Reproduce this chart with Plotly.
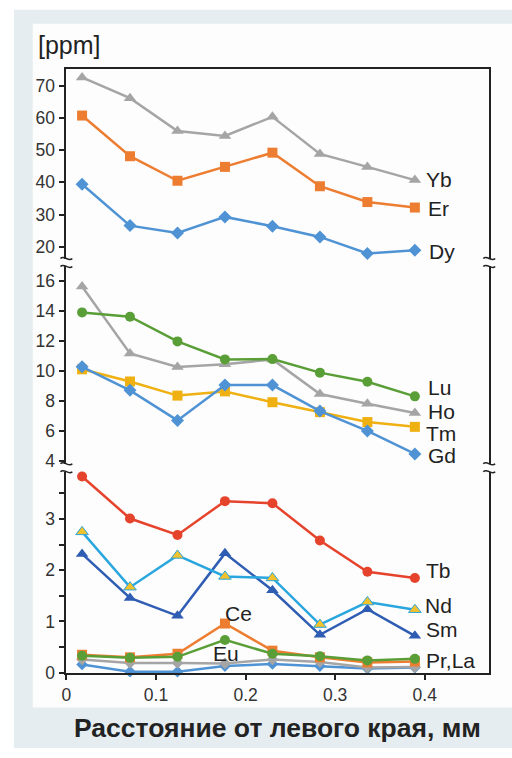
import plotly.graph_objects as go

# Distance from the left edge, mm
dist = [0.0175, 0.071, 0.124, 0.177, 0.23, 0.283, 0.336, 0.389]

# Upper group (ppm)
yb = [72.5, 66.1, 55.9, 54.4, 60.3, 48.8, 44.8, 40.7]
er = [60.7, 48.1, 40.5, 44.8, 49.2, 38.8, 33.9, 32.2]
dy = [39.4, 26.6, 24.3, 29.3, 26.4, 23.1, 18.0, 19.0]

# Middle group (ppm)
lu = [13.88, 13.59, 11.95, 10.75, 10.77, 9.87, 9.26, 8.29]
ho = [15.6, 11.15, 10.25, 10.42, 10.75, 8.45, 7.8, 7.18]
tm = [10.09, 9.28, 8.34, 8.62, 7.9, 7.24, 6.58, 6.26]
gd = [10.26, 8.69, 6.69, 9.04, 9.04, 7.31, 5.99, 4.46]

# Lower group (ppm)
tb = [3.83, 3.01, 2.69, 3.35, 3.31, 2.58, 1.97, 1.85]
nd = [2.75, 1.67, 2.29, 1.88, 1.85, 0.94, 1.38, 1.23]
sm = [2.32, 1.46, 1.11, 2.33, 1.61, 0.74, 1.24, 0.72]
ce = [0.35, 0.30, 0.37, 0.96, 0.43, 0.30, 0.20, 0.22]
eu = [0.33, 0.29, 0.31, 0.64, 0.37, 0.32, 0.24, 0.27]
la = [0.26, 0.19, 0.19, 0.18, 0.26, 0.21, 0.10, 0.11]
pr = [0.16, 0.02, 0.02, 0.13, 0.17, 0.13, 0.08, 0.10]

x_ticks = [0, 0.1, 0.2, 0.3, 0.4]
x_ticktext = ["0", "0.1", "0.2", "0.3", "0.4"]
top_ticks = [20, 30, 40, 50, 60, 70]
mid_ticks = [4, 6, 8, 10, 12, 14, 16]
low_ticks = [0, 0.5, 1, 1.5, 2, 2.5, 3, 3.5]
low_ticktext = ["0", "", "1", "", "2", "", "3", ""]

W, H = 512, 758
GRAY = "#a5a5a5"
ORANGE = "#ed7d31"
BLUE = "#4f93d4"
GREEN = "#5a9e37"
YELLOW = "#efb112"
RED = "#e5432c"
LBLUE = "#2aa6df"
DBLUE = "#2f5db3"
AXIS = "#222222"
FONT = "Liberation Sans, Arial, sans-serif"


def px(x):
    return x / W


def py(y):
    return 1 - y / H


fig = go.Figure()


def series(y, color, symbol, size, axis, fill=None, edge=None):
    fig.add_trace(go.Scatter(
        x=dist, y=y, xaxis=axis[0], yaxis=axis[1], mode="lines+markers",
        line=dict(color=color, width=2.5),
        marker=dict(symbol=symbol, size=size, color=fill or color,
                    line=dict(color=edge or (fill or color), width=1 if edge else 0)),
        hoverinfo="skip", showlegend=False, cliponaxis=False))


top = ("x", "y")
mid = ("x2", "y2")
low = ("x3", "y3")

series(yb, GRAY, "triangle-up", 11, top)
series(er, ORANGE, "square", 10, top)
series(dy, BLUE, "diamond", 10, top)

series(ho, GRAY, "triangle-up", 11, mid)
series(lu, GREEN, "circle", 10, mid)
series(tm, YELLOW, "square", 10, mid)
series(gd, BLUE, "diamond", 10, mid)

series(pr, BLUE, "diamond", 9, low)
series(la, GRAY, "diamond", 9, low)
series(ce, ORANGE, "square", 10, low)
series(eu, GREEN, "circle", 10, low)
series(sm, DBLUE, "triangle-up", 11, low)
series(nd, LBLUE, "triangle-up", 11, low, fill="#f2c12e", edge=LBLUE)
series(tb, RED, "circle", 10, low)

xdom = [px(62), px(489)]
xr = [0, 0.472]
tickfont = dict(family=FONT, size=17.5, color="#333333")

common_y = dict(showline=True, linecolor=AXIS, linewidth=2, mirror=True,
                ticks="outside", ticklen=5, tickwidth=1.5, tickcolor=AXIS,
                showgrid=False, zeroline=False, tickfont=tickfont, ticklabelstandoff=1)

fig.update_layout(
    width=W, height=H, margin=dict(l=0, r=0, t=0, b=0),
    paper_bgcolor="white", plot_bgcolor="rgba(0,0,0,0)",
    xaxis=dict(domain=xdom, range=xr, anchor="y", side="top", showline=True,
               linecolor=AXIS, linewidth=2, showticklabels=False, ticks="",
               showgrid=False, zeroline=False),
    xaxis2=dict(domain=xdom, range=xr, anchor="y2", showline=False,
                showticklabels=False, ticks="", showgrid=False, zeroline=False),
    xaxis3=dict(domain=xdom, range=xr, anchor="y3", showline=True,
                linecolor=AXIS, linewidth=2, ticks="outside", ticklen=5,
                tickwidth=1.5, tickcolor=AXIS, tickvals=x_ticks,
                ticktext=x_ticktext, tickfont=tickfont, showgrid=False,
                zeroline=False),
    yaxis=dict(domain=[py(262), py(70)], range=[16.4, 75.1], anchor="x",
               tickvals=top_ticks, **common_y),
    yaxis2=dict(domain=[py(470), py(270)], range=[3.8, 16.94], anchor="x2",
                tickvals=mid_ticks, **common_y),
    yaxis3=dict(domain=[py(682), py(478)], range=[-0.006, 3.925], anchor="x3",
                tickvals=low_ticks, ticktext=low_ticktext, **common_y),
)

# Backdrop panels
fig.add_shape(type="rect", xref="paper", yref="paper", x0=px(9), x1=px(512),
              y0=py(758), y1=py(10), fillcolor="#e5edf0", line_width=0, layer="below")
fig.add_shape(type="rect", xref="paper", yref="paper", x0=px(28), x1=px(512),
              y0=py(717), y1=py(24), fillcolor="#fdfdfd", line_width=0, layer="below")


# Axis-break tildes on both vertical axes
def tilde(cx, cy):
    path = (f"M {px(cx - 6)},{py(cy)} C {px(cx - 2)},{py(cy - 4)} "
            f"{px(cx + 2)},{py(cy + 4)} {px(cx + 6)},{py(cy)}")
    fig.add_shape(type="path", xref="paper", yref="paper", path=path,
                  line=dict(color=AXIS, width=1.5))


for bx in (62, 489):
    for by in (262, 270, 470, 478):
        tilde(bx, by)

lab = dict(family=FONT, size=21, color="#222222")


def label(text, x, y, axis):
    fig.add_annotation(text=text, x=x, y=y, xref=axis[0], yref=axis[1],
                       xanchor="left", yanchor="middle", showarrow=False,
                       font=lab, borderpad=0)


label("Yb", 0.400, 40.9, top)
label("Er", 0.403, 32.0, top)
label("Dy", 0.404, 18.5, top)
label("Lu", 0.403, 8.85, mid)
label("Ho", 0.403, 7.3, mid)
label("Tm", 0.400, 5.85, mid)
label("Gd", 0.403, 4.35, mid)
label("Tb", 0.400, 2.0, low)
label("Nd", 0.399, 1.32, low)
label("Sm", 0.400, 0.84, low)
label("Pr,La", 0.400, 0.23, low)
label("Ce", 0.176, 1.15, low)
label("Eu", 0.163, 0.38, low)

fig.add_annotation(text="[ppm]", x=px(31), y=py(46), xref="paper", yref="paper",
                   xanchor="left", yanchor="middle", showarrow=False,
                   font=dict(family=FONT, size=25, color="#222222"))
fig.add_annotation(text="<b>Расстояние от левого края, мм</b>", x=px(275), y=py(738),
                   xref="paper", yref="paper", xanchor="center", yanchor="middle",
                   showarrow=False, font=dict(family=FONT, size=26.5, color="#222222"))

fig.write_html("out.html")
